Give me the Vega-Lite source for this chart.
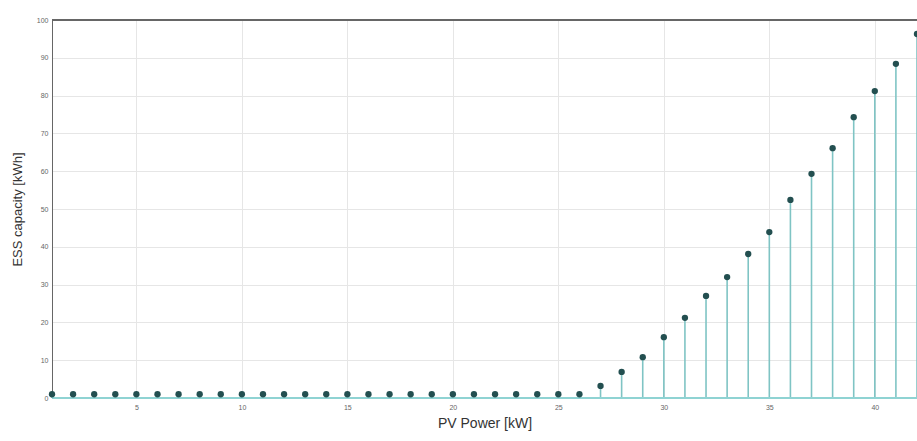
{
  "$schema": "https://vega.github.io/schema/vega-lite/v6.json",
  "autosize": {"type": "none"},
  "padding": {"left": 52, "top": 20, "right": 0, "bottom": 43},
  "width": 865,
  "height": 378,
  "background": "white",
  "config": {
    "view": {"stroke": "#555555", "strokeWidth": 1},
    "axis": {
      "labelFont": "Liberation Sans",
      "titleFont": "Liberation Sans",
      "labelFontSize": 7,
      "labelColor": "#666666",
      "titleColor": "#333333",
      "titleFontWeight": "normal",
      "gridColor": "#e6e6e6",
      "gridWidth": 1,
      "domainColor": "#666666",
      "tickColor": "#666666",
      "tickSize": 4
    }
  },
  "data": {
    "values": [
      {"pv": 1, "ess": 1.0}, {"pv": 2, "ess": 1.0}, {"pv": 3, "ess": 1.0}, {"pv": 4, "ess": 1.0},
      {"pv": 5, "ess": 1.0}, {"pv": 6, "ess": 1.0}, {"pv": 7, "ess": 1.0}, {"pv": 8, "ess": 1.0},
      {"pv": 9, "ess": 1.0}, {"pv": 10, "ess": 1.0}, {"pv": 11, "ess": 1.0}, {"pv": 12, "ess": 1.0},
      {"pv": 13, "ess": 1.0}, {"pv": 14, "ess": 1.0}, {"pv": 15, "ess": 1.0}, {"pv": 16, "ess": 1.0},
      {"pv": 17, "ess": 1.0}, {"pv": 18, "ess": 1.0}, {"pv": 19, "ess": 1.0}, {"pv": 20, "ess": 1.0},
      {"pv": 21, "ess": 1.0}, {"pv": 22, "ess": 1.0}, {"pv": 23, "ess": 1.0}, {"pv": 24, "ess": 1.0},
      {"pv": 25, "ess": 1.0}, {"pv": 26, "ess": 1.0}, {"pv": 27, "ess": 3.2}, {"pv": 28, "ess": 6.9},
      {"pv": 29, "ess": 10.8}, {"pv": 30, "ess": 16.1}, {"pv": 31, "ess": 21.2}, {"pv": 32, "ess": 27.0},
      {"pv": 33, "ess": 32.0}, {"pv": 34, "ess": 38.1}, {"pv": 35, "ess": 43.9}, {"pv": 36, "ess": 52.4},
      {"pv": 37, "ess": 59.3}, {"pv": 38, "ess": 66.1}, {"pv": 39, "ess": 74.3}, {"pv": 40, "ess": 81.2},
      {"pv": 41, "ess": 88.4}, {"pv": 42, "ess": 96.3}
    ]
  },
  "encoding": {
    "x": {
      "field": "pv", "type": "quantitative",
      "scale": {"domain": [1, 42], "nice": false, "zero": false},
      "axis": {"values": [5, 10, 15, 20, 25, 30, 35, 40], "title": "PV Power [kW]", "titleFontSize": 14, "titlePadding": 6, "domain": false, "ticks": false, "labelPadding": 5}
    },
    "y": {
      "field": "ess", "type": "quantitative",
      "scale": {"domain": [0, 100], "nice": false},
      "axis": {"values": [0, 10, 20, 30, 40, 50, 60, 70, 80, 90, 100], "title": "ESS capacity  [kWh]", "titleFontSize": 13, "titlePadding": 12, "ticks": false, "labelPadding": 4}
    }
  },
  "layer": [
    {
      "mark": {"type": "rule", "color": "#666666", "strokeWidth": 1},
      "encoding": {"x": null, "y": {"datum": 100}}
    },
    {
      "mark": {"type": "rule", "color": "#7fc4c4", "strokeWidth": 1.6},
      "encoding": {"y2": {"datum": 0}}
    },
    {
      "mark": {"type": "rule", "color": "#8fd3d3", "strokeWidth": 1.5},
      "encoding": {"x": null, "y": {"datum": 0}}
    },
    {
      "mark": {"type": "point", "filled": true, "color": "#234f50", "opacity": 1, "size": 40}
    }
  ]
}
